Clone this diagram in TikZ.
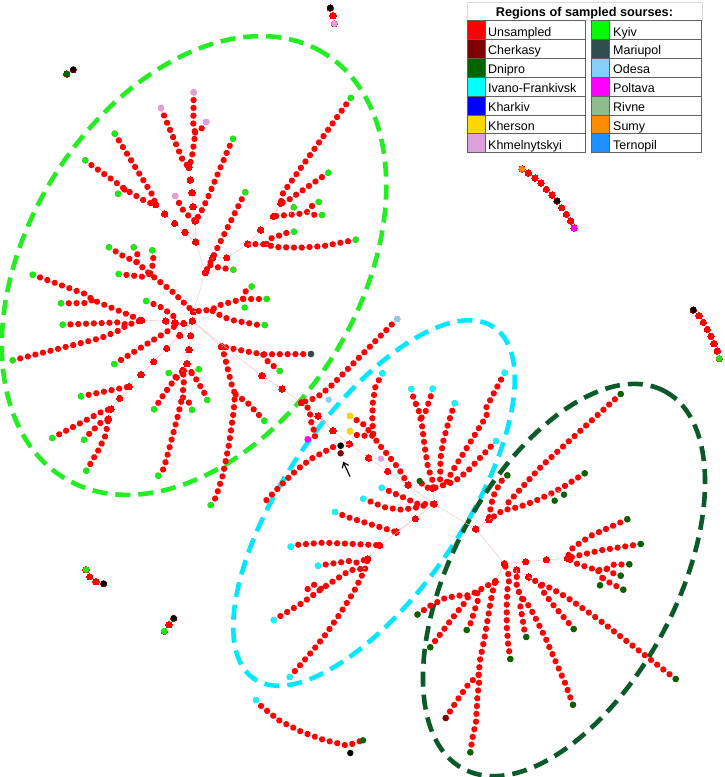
\documentclass[tikz,border=0pt]{standalone}
\usepackage{fontspec}
\newfontfamily\lsans{Liberation Sans}
\usetikzlibrary{decorations.markings,arrows.meta}
\definecolor{unsamp}{HTML}{FF0000}
\definecolor{cherk}{HTML}{800000}
\definecolor{dnipro}{HTML}{006400}
\definecolor{ivano}{HTML}{00FFFF}
\definecolor{khark}{HTML}{0000FF}
\definecolor{khers}{HTML}{FFD700}
\definecolor{khmel}{HTML}{DDA0DD}
\definecolor{kyiv}{HTML}{11EE11}
\definecolor{kyivleg}{HTML}{00FF00}
\definecolor{mariup}{HTML}{2F4F4F}
\definecolor{odesa}{HTML}{87CEFA}
\definecolor{poltava}{HTML}{FF00FF}
\definecolor{rivne}{HTML}{8FBC8F}
\definecolor{sumy}{HTML}{FF8C00}
\definecolor{ternop}{HTML}{1E90FF}
\definecolor{edgec}{HTML}{FFC4C4}
\definecolor{ellG}{HTML}{22EE22}
\definecolor{ellC}{HTML}{00E8FF}
\definecolor{ellD}{HTML}{0B5A2A}
\definecolor{legline}{HTML}{606060}
\tikzset{
  br/.style={draw=edgec, line width=0.5pt, postaction={decorate},
    decoration={markings, mark=between positions 0 and 1 step 7.8pt with {\fill[unsamp] (0,0) circle (3.15pt);}}},
  tr/.style={draw=edgec, line width=0.5pt},
  ell/.style={line width=4.6pt, dash pattern=on 15pt off 8pt},
  legtxt/.style={font=\lsans\fontsize{12.5}{14}\selectfont, anchor=base west, inner sep=0pt},
  legbox/.style={draw=legline, line width=0.8pt},
}
\newcommand\mytrunk[1]{\draw[tr] plot[mark=*, mark size=3.15pt, mark options={unsamp, line width=0pt}] coordinates {#1};}
\newcommand\mytips[2]{\foreach \x/\y in {#2}{\fill[#1] (\x,\y) circle (3.25pt);}}
\begin{document}
\begin{tikzpicture}[x=1pt,y=-1pt]
\useasboundingbox (0,0) rectangle (724,777);
\fill[white] (0,0) rectangle (724,777);
% ellipses
\draw[ell, ellG, rotate around={58.5:(194,265.5)}] (194,265.5) ellipse [x radius=249pt, y radius=166pt];
\draw[ell, ellC, rotate around={55.65:(374,503)}] (374,503) ellipse [x radius=212.8pt, y radius=89pt];
\draw[ell, ellD, rotate around={61.95:(564,580)}] (564,580) ellipse [x radius=214pt, y radius=112pt];

% ===== Kyiv cluster =====
\draw[br] (193.7,92.3) -- (193.3,124.3) -- (195,132.7) -- (194.3,141) -- (191.7,158.3) -- (189,167.3);
\draw[br] (206.3,122) -- (201.7,128.3) -- (195,132.7);
\draw[br] (161,108.3) -- (183,160.7) -- (189,167.3);
\mytrunk{(189,167.3) (190.3,180) (192,192.7) (193,206.7) (195.3,221) (195.7,242) (205.3,272.7) (193.3,311.7)}
\draw[br] (175.3,196) -- (179,203) -- (183,210) -- (188.7,216) -- (195.3,221);
\draw[br] (233,138.7) -- (229.7,145.7) -- (207.3,198.7) -- (204,206) -- (200,213.7) -- (195.3,221);
\draw[br] (114.7,133.7) -- (153,196) -- (155.7,204.7);
\draw[br] (85.3,160.3) -- (91.7,165.3) -- (111.7,179.3) -- (125,189.3) -- (146.7,202) -- (155.7,204.7);
\draw[br] (118,193.7) -- (125,189.3);
\mytrunk{(155.7,204.7) (164.7,214) (174.7,223.3) (185,232.3) (195.7,242)}
\draw[br] (350.7,98) -- (283,193) -- (280.7,203.3);
\mytrunk{(280.7,203.3) (273.3,216.3) (260.7,230) (247.7,244) (226.7,257.7) (212.7,257.7)}
\draw[br] (328.3,172.7) -- (288,200.3) -- (280.7,203.3);
\draw[br] (318.7,202) -- (312,206) -- (307,212) -- (298.7,214) -- (273.3,216.3);
\draw[br] (322,215) -- (314.7,215) -- (307,212);
\draw[br] (293.7,207.3) -- (290.3,214.3);
\draw[br] (294,231.7) -- (286.3,233) -- (271.3,238.3) -- (266,244.3);
\draw[br] (355.7,239.7) -- (324,246) -- (299.7,247.7) -- (274.7,247) -- (266,244.3) -- (247.7,244);
\draw[br] (245.3,192.3) -- (241.7,199.3) -- (216,250.7) -- (212.7,257.7) -- (205.3,272.7);
\draw[br] (233.3,269.7) -- (217.7,267.3) -- (209.7,265);
\draw[br] (109,247.3) -- (122.7,255.7) -- (136.7,262.3) -- (150,274) -- (172,291.3) -- (193.3,311.7);
\draw[br] (133.7,247.3) -- (137.3,254.3) -- (136.7,262.3);
\draw[br] (152.3,250.3) -- (153.3,258.3) -- (152.3,266.7) -- (150,274);
\draw[br] (118.7,274) -- (142.3,276.7) -- (150,274);
\draw[br] (146.3,301) -- (161.7,307.5) -- (173.3,316) -- (176,324);
\draw[br] (32.7,274.7) -- (86,294.3) -- (93,300) -- (141.7,320.3);
\draw[br] (61,303.3) -- (85.3,303) -- (93,300);
\draw[br] (62.7,324.7) -- (119.3,322.3) -- (127.3,325);
\draw[br] (12.7,360.3) -- (101,338) -- (118.3,330.7) -- (127.3,325) -- (141.7,320.3);
\mytrunk{(141.7,320.3) (165.7,321) (175,322.7) (183.7,323.3) (192.3,321) (193.3,311.7)}
\draw[br] (114.3,364) -- (170.7,329.3) -- (176.3,325);
\draw[br] (266.7,299) -- (242.7,299) -- (219,305.3) -- (211,310) -- (202.7,310.5) -- (193.3,311.7);
\draw[br] (251.7,286.5) -- (245.7,291.3) -- (242.7,299);
\draw[br] (264.7,325) -- (257,324.7) -- (233.3,320.3) -- (226,318) -- (218.3,314.3) -- (211,310);
\mytrunk{(192.3,321) (190.7,335.7) (189,349.7) (187,363.7) (182.7,370.3)}
\draw[br] (154,409.3) -- (162.7,396) -- (172,383) -- (182.7,371);
\draw[br] (168.7,373) -- (176.3,377.3);
\draw[br] (198.7,369.3) -- (191,372.3) -- (182.7,370.3);
\draw[br] (207.3,400) -- (204.3,393) -- (196,379) -- (191,372.3);
\draw[br] (192,409.7) -- (189,402.7) -- (182.3,397) -- (184,379.7) -- (182.7,370.3);
\draw[br] (158.3,475.7) -- (163.7,468.7) -- (170,445.7) -- (178.3,414) -- (182.3,397);
\mytrunk{(192.3,321) (179.7,335.3) (166.7,348.3) (153.7,361.7) (141,374.7) (129,386.7) (119.7,398.3) (111,409) (108.3,419)}
\draw[br] (81,396.3) -- (120.7,388.3) -- (129,386.7);
\draw[br] (52.3,438) -- (102.7,411.3) -- (111,409);
\draw[br] (84,439.7) -- (89.3,433.7) -- (100.3,423) -- (108.3,419);
\draw[br] (86.3,470.7) -- (98.7,449.7) -- (105.7,435) -- (108.3,419);
\mytrunk{(192.3,321) (221.5,346.5)}
\draw[br] (210.7,505) -- (215.7,497.7) -- (222.7,475.7) -- (229,444.3) -- (233.7,411) -- (235,394) -- (231.7,385) -- (224.7,356.7) -- (221.5,346.5);
\draw[br] (311,354) -- (263,354.3) -- (255,353) -- (221.5,346.5);
\draw[br] (279.7,371) -- (267.7,361.3) -- (263,354.3);
\draw[br] (264.3,420.7) -- (252.7,408.3) -- (247.7,403) -- (235,394);
\mytrunk{(192.3,321) (262,375.7) (282,389) (301.3,402.7)}

% ===== Ivano-Frankivsk cluster =====
\draw[br] (397.3,319) -- (392,324.3) -- (329.7,387.3) -- (316.3,397.7) -- (301.3,402.7);
\mytrunk{(301.3,402.7) (318,416) (333,430.7) (349.3,444) (368.7,458) (387.7,471.3) (408,485) (434,504)}
\draw[br] (307.7,439.3) -- (316,435.7) -- (311.7,424.7) -- (309.3,409) -- (301.3,402.7);
\draw[br] (340.7,445.7) -- (333.3,447) -- (311.3,458.7) -- (298.7,468.3) -- (286.7,479.3) -- (265.3,501.3);
\draw[tr] (340.7,445.7) -- (349.3,444);
\draw[tr] (340.7,453.3) -- (340.7,445.7);
\draw[br] (350,416) -- (363.3,424.3) -- (373.3,435.7);
\draw[br] (350,431.3) -- (358,435.7) -- (373.3,435.7);
\draw[br] (382.3,373.3) -- (375.3,387.3) -- (372.7,403.3) -- (372.3,419.7) -- (373.3,435.7) -- (378,443.3) -- (388.7,456) -- (399,469) -- (408.3,485);
\draw[tr] (381,458.7) -- (368.7,458);
\draw[br] (411.3,389) -- (413.3,397.3) -- (419,411.7) -- (422.3,427) -- (424.3,444) -- (428,467.7) -- (433.3,482.7) -- (432.7,488.3);
\draw[br] (432.7,388.7) -- (430.7,396.3) -- (425.3,412.3) -- (420,420);
\draw[br] (454.7,403.3) -- (447.3,426.3) -- (443,442) -- (440.5,458) -- (440,483.7);
\draw[br] (504.7,372.7) -- (486,408) -- (486.7,415.7) -- (452,471.7) -- (446,483.7);
\draw[br] (496,441) -- (467.7,471) -- (455,481) -- (448.3,483.7) -- (432.7,488.3) -- (425,487.3) -- (419.7,481);
\draw[br] (381.7,487.7) -- (418,504) -- (434,504);
\draw[br] (363.3,498.7) -- (386,507.7) -- (401.7,509.7) -- (417.7,507.3) -- (426,505);
\mytrunk{(432.7,488.3) (434,504)}
\draw[br] (335,512) -- (350,518) -- (396,532);
\mytrunk{(396,532) (415.3,518.7) (434,504)}
\mytrunk{(367.7,558.7) (379.7,545.3) (415.3,518.7)}
\draw[br] (290.7,546.7) -- (298.3,544.7) -- (322.3,542.7) -- (355,544) -- (379.7,545.3);
\draw[br] (318,565.7) -- (349.3,561) -- (357,562.7) -- (367.7,558.7);
\draw[br] (289.7,677) -- (300.3,665) -- (315.7,647) -- (326,634) -- (340,613.7) -- (353.7,592) -- (361.7,576) -- (365.3,568.3) -- (367.7,558.7);
\draw[br] (273.7,620) -- (301,603.7) -- (314.3,594.3) -- (321.3,589) -- (350,570.3) -- (365.3,568.3);
\draw[br] (307.7,589) -- (314,584.7) -- (321.3,589);
\draw[br] (256,700) -- (261.3,706.3) -- (280,721) -- (301.3,731.7) -- (324,740) -- (347.7,745.7) -- (355,742.7) -- (363,740.3);
\draw[tr] (347.7,745.7) -- (350.3,753);

% ===== Dnipro cluster =====
\mytrunk{(434,504) (475.7,529) (504.3,563.7)}
\draw[br] (507.3,475.3) -- (500.7,481.7) -- (493,496.7) -- (490,511.3) -- (489,519.7);
\mytrunk{(489,519.7) (475.7,529)}
\draw[br] (584.7,473.3) -- (563.7,486.7) -- (549.7,494.3) -- (534.3,501.3) -- (519,507) -- (503,510.3) -- (489,519.7);
\draw[tr] (564,494.7) -- (557,490);
\draw[tr] (554.7,500.7) -- (549.7,494.3);
\draw[br] (620.7,394) -- (541.7,466) -- (529.3,479.3) -- (516,494) -- (506,505);
\draw[br] (417.5,614.5) -- (430.3,605.7) -- (445.3,598) -- (461,595.3) -- (469,595.3) -- (477.3,591.3) -- (486,586.3) -- (495.3,581.3);
\mytrunk{(495.3,581.3) (504.3,563.7)}
\draw[br] (430.3,647.3) -- (454.3,615.7) -- (464.7,602.7) -- (469,595.3);
\draw[br] (466.7,630) -- (470.7,623) -- (473,615.3) -- (478,599.7) -- (477.3,591.3);
\draw[br] (470.3,752.3) -- (472.7,737) -- (476,721.7) -- (477.3,698) -- (479,683) -- (478.7,674.7) -- (480,660) -- (484,640.7) -- (490,605.7) -- (492,593.7) -- (495.3,581.3);
\draw[br] (445.7,718) -- (458.7,698) -- (468.3,684.3) -- (474,679) -- (478.7,674.7);
\mytrunk{(504.3,563.7) (525.7,561.7) (546.3,559.7) (567.3,558.3)}
\draw[br] (627.3,519.3) -- (591,535.7) -- (577.3,544.7) -- (570.3,550) -- (567.3,558.3);
\draw[br] (640.7,544) -- (600.7,550.3) -- (576.3,556) -- (567.3,558.3);
\draw[br] (629.3,564.3) -- (613.7,564.7) -- (606.3,569) -- (597.7,570.3) -- (588,567.3) -- (578,564.3) -- (567.3,558.3);
\draw[br] (620.7,575.7) -- (613.3,573.3) -- (606.3,569);
\draw[br] (600,585.3) -- (602.3,577.7) -- (597.7,570.3);
\draw[br] (623.3,589.7) -- (609,582.3) -- (602.3,577.7);
\mytrunk{(504.3,563.7) (516.7,570) (528.7,577)}
\draw[br] (510.3,659) -- (508,643) -- (506.7,627) -- (506.7,602.7) -- (507.7,586) -- (509.7,578) -- (504.3,563.7);
\draw[br] (526.3,637) -- (524.3,629.7) -- (520.3,606) -- (522.3,598) -- (516.7,588) -- (516.7,570);
\draw[br] (573,704.7) -- (564.7,682.3) -- (545,637) -- (533.3,613.7) -- (528.7,605.7) -- (522.3,598);
\draw[br] (573.7,629) -- (553,604.7) -- (543,591.3) -- (540.3,584) -- (528.7,577);
\draw[br] (675.7,679) -- (598,619) -- (568.3,598.3) -- (550.7,588) -- (540.3,584);

% ===== isolated pieces =====
\mytrunk{(66.7,74) (73.3,69.7)}
\mytrunk{(330.3,8) (333,15.7) (334.3,23.7)}
\mytrunk{(522,169) (528.3,173) (535,178) (541,183) (546.3,189.3) (552,195) (557,201) (561.7,207.7) (566.3,214.3) (570.7,221) (574,228)}
\mytrunk{(693.3,310) (699,315.7) (703.3,322.3) (707.3,329.3) (711,336.3) (714,343.7) (717.3,351) (719.3,358.7)}
\mytrunk{(86,569.7) (89.7,576.7) (96,581.7) (103.7,583.7)}
\mytrunk{(173.7,618.3) (169,624.7) (164.3,631.3)}

% ===== coloured tips =====
\mytips{kyiv}{233/138.7, 114.7/133.7, 85.3/160.3, 118/193.7, 350.7/98, 328.3/172.7, 318.7/202, 322/215, 293.7/207.3, 294/231.7, 355.7/239.7, 245.3/192.3, 233.3/269.7, 109/247.3, 133.7/247.3, 152.3/250.3, 118.7/274, 146.3/301, 32.7/274.7, 61/303.3, 62.7/324.7, 12.7/360.3, 114.3/364, 266.7/299, 251.7/286.5, 244.5/307.5, 264.7/325, 154/409.3, 168.7/373, 198.7/369.3, 207.3/400, 192/409.7, 158.3/475.7, 81/396.3, 52.3/438, 84/439.7, 86.3/470.7, 210.7/505, 279.7/371, 264.3/420.7, 86/569.7, 164.3/631.3, 719.3/358.7}
\mytips{khmel}{193.7/92.3, 206.3/122, 161/108.3, 175.3/196, 381/458.7, 334.3/23.7}
\mytips{mariup}{311/354}
\mytips{ivano}{382.3/373.3, 411.3/389, 432.7/388.7, 454.7/403.3, 504.7/372.7, 496/441, 381.7/487.7, 363.3/498.7, 335/512, 290.7/546.7, 318/565.7, 289.7/677, 273.7/620, 256/700}
\mytips{odesa}{397.3/319, 328.7/399.7}
\mytips{poltava}{307.7/439.3, 574/228}
\mytips{black}{340.7/445.7, 350.3/753, 330.3/8, 73.3/69.7, 557/201, 693.3/310, 103.7/583.7, 173.7/618.3}
\mytips{cherk}{340.7/453.3, 445.7/718}
\mytips{khers}{350/416, 350/431.3}
\mytips{sumy}{522/169}
\mytips{dnipro}{507.3/475.3, 584.7/473.3, 564/494.7, 554.7/500.7, 620.7/394, 417.5/614.5, 430.3/647.3, 466.7/630, 470.3/752.3, 627.3/519.3, 640.7/544, 629.3/564.3, 620.7/575.7, 600/585.3, 623.3/589.7, 510.3/659, 526.3/637, 573/704.7, 573.7/629, 675.7/679, 419.7/481, 363/740.3, 66.7/74}

% arrow
\coordinate (arrtail) at (350,476.5);
\coordinate (arrhead) at (343.2,461.8);
\draw[-{Straight Barb[length=4.5pt,width=7pt]}, line width=1.2pt] (arrtail) -- (arrhead);

% ===== legend =====
\fill[white] (467,2) rectangle (702,20.7);
\draw[black!15, line width=0.6pt] (467,2) rectangle (702,20.7);
\node[anchor=base west, inner sep=0pt, font=\lsans\bfseries\fontsize{12.7}{15}\selectfont] (legtitle) at (495.7,16.6) {Regions of sampled sourses:};
\foreach \i/\nm/\cl in {0/Unsampled/unsamp, 1/Cherkasy/cherk, 2/Dnipro/dnipro, 3/Ivano-Frankivsk/ivano, 4/Kharkiv/khark, 5/Kherson/khers, 6/Khmelnytskyi/khmel}{
  \fill[white] (485,{20.7+\i*18.86}) rectangle (585,{20.7+(\i+1)*18.86});
  \fill[\cl] (467,{20.7+\i*18.86}) rectangle (485,{20.7+(\i+1)*18.86});
  \draw[legbox] (467,{20.7+\i*18.86}) rectangle (585,{20.7+(\i+1)*18.86});
  \draw[legbox] (485,{20.7+\i*18.86}) -- (485,{20.7+(\i+1)*18.86});
  \node[legtxt] (legL\i) at (488,{20.7+\i*18.86+15.4}) {\nm};
}
\foreach \i/\nm/\cl in {0/Kyiv/kyivleg, 1/Mariupol/mariup, 2/Odesa/odesa, 3/Poltava/poltava, 4/Rivne/rivne, 5/Sumy/sumy, 6/Ternopil/ternop}{
  \fill[white] (609.7,{20.7+\i*18.86}) rectangle (701.3,{20.7+(\i+1)*18.86});
  \fill[\cl] (591,{20.7+\i*18.86}) rectangle (609.7,{20.7+(\i+1)*18.86});
  \draw[legbox] (591,{20.7+\i*18.86}) rectangle (701.3,{20.7+(\i+1)*18.86});
  \draw[legbox] (609.7,{20.7+\i*18.86}) -- (609.7,{20.7+(\i+1)*18.86});
  \node[legtxt] (legR\i) at (613,{20.7+\i*18.86+15.4}) {\nm};
}
\end{tikzpicture}
\end{document}
